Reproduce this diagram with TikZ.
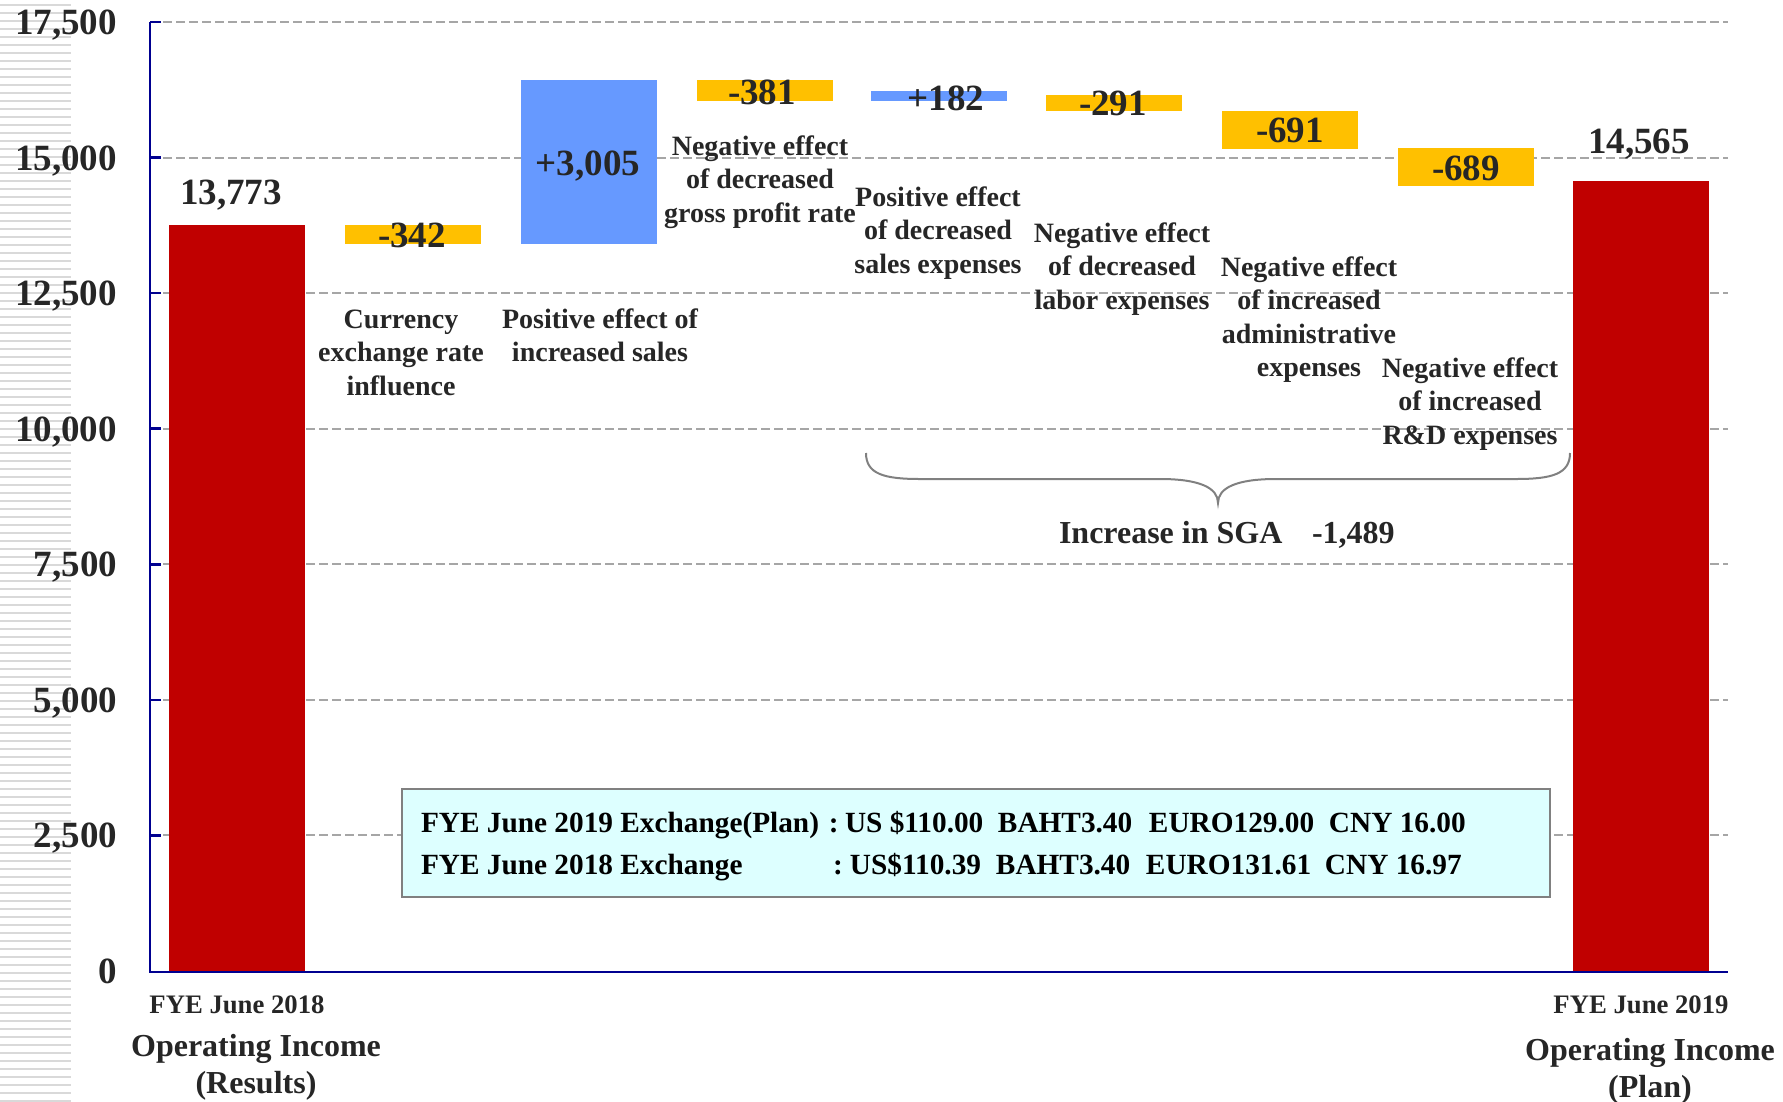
\documentclass[tikz,border=0pt]{standalone}
\usepackage{fontspec}
\setmainfont{Liberation Serif}
\definecolor{barred}{HTML}{C00000}
\definecolor{baryel}{HTML}{FFC000}
\definecolor{barblue}{HTML}{6699FF}
\definecolor{axisblue}{HTML}{000090}
\definecolor{gridgray}{HTML}{A6A6A6}
\definecolor{txt}{HTML}{262626}
\definecolor{boxfill}{HTML}{DDFFFF}
\definecolor{boxline}{HTML}{808080}
\definecolor{stripe}{HTML}{D9D9D9}
\newcommand{\catlbl}[1]{\begin{tabular}[t]{@{}c@{}}#1\end{tabular}}
\begin{document}
\begin{tikzpicture}[x=1pt,y=-1pt,
  every node/.style={inner sep=0pt, outer sep=0pt, text=txt},
  ticklbl/.style={anchor=base east, font=\fontsize{37}{44}\selectfont\bfseries},
  val/.style={anchor=base, font=\fontsize{37}{44}\selectfont\bfseries},
  cat/.style={anchor=base, font=\fontsize{28}{33.5}\selectfont\bfseries},
  boxtxt/.style={anchor=base west, text=black, font=\fontsize{29.3}{35}\selectfont\bfseries},
  fylbl/.style={anchor=base, font=\fontsize{26.7}{32}\selectfont\bfseries},
  oilbl/.style={anchor=base, font=\fontsize{32}{37.5}\selectfont\bfseries},
  gridln/.style={gridgray, line width=2pt, dash pattern=on 9pt off 4pt},
  axisln/.style={axisblue, line width=2.5pt}]
\useasboundingbox (0,0) rectangle (1783,1101);
% left stripes
\foreach \k in {0,...,137} \draw[stripe, line width=2pt] (0,{5+8*\k}) -- (71,{5+8*\k});
% gridlines and tick labels
\foreach \v/\lab in {0/0,1/{2,500},2/{5,000},3/{7,500},4/{10,000},5/{12,500},6/{15,000},7/{17,500}}{
  \pgfmathsetmacro{\yy}{971-\v*135.57}
  \ifnum\v>0 \draw[gridln] (150,\yy) -- (1728,\yy); \fi
  \node[ticklbl] (t\v) at (117,\yy+12.5) {\lab};
}
% bars
\fill[barred] (169,225) rectangle (305,972);
\fill[baryel] (345,225) rectangle (481,244);
\fill[barblue] (521,80) rectangle (657,244);
\fill[baryel] (697,80) rectangle (833,101);
\fill[barblue] (871,91) rectangle (1007,101);
\fill[baryel] (1046,95) rectangle (1182,111);
\fill[baryel] (1222,111) rectangle (1358,149);
\fill[baryel] (1398,148) rectangle (1534,186);
\fill[barred] (1573,181) rectangle (1709,972);
% axes
\draw[axisln] (150,22) -- (150,972) -- (1728,972);
\foreach \v in {1,...,7}{
  \pgfmathsetmacro{\yy}{971-\v*135.57}
  \draw[axisln] (150,\yy) -- (161,\yy);
}
% values
\node[val] (v0) at (231,204) {13,773};
\node[val] (v1) at (412,247) {-342};
\node[val] (v2) at (588,175) {+3,005};
\node[val] (v3) at (762,104) {-381};
\node[val] (v4) at (946,110) {+182};
\node[val] (v5) at (1113,115) {-291};
\node[val] (v6) at (1290,142) {-691};
\node[val] (v7) at (1466,180) {-689};
\node[val] (v8) at (1639,153) {14,565};
% category labels
\node[cat] (c1) at (401,328) {\catlbl{Currency\\exchange rate\\influence}};
\node[cat] (c2) at (600,328) {\catlbl{Positive effect of\\increased sales}};
\node[cat] (c3) at (760,155) {\catlbl{Negative effect\\of decreased\\gross profit rate}};
\node[cat] (c4) at (938,206) {\catlbl{Positive effect\\of decreased\\sales expenses}};
\node[cat] (c5) at (1122,242) {\catlbl{Negative effect\\of decreased\\labor expenses}};
\node[cat] (c6) at (1309,276) {\catlbl{Negative effect\\of increased\\administrative\\expenses}};
\node[cat] (c7) at (1470,377) {\catlbl{Negative effect\\of increased\\R\&D expenses}};
% brace
\coordinate (bl) at (866,453);
\coordinate (bt) at (1218,503);
\coordinate (br) at (1570,453);
\draw[boxline, line width=2pt] (bl) .. controls (866,474) and (884,479) .. (920,479) -- (1160,479)
  .. controls (1200,479) and (1218,488) .. (bt)
  .. controls (1218,488) and (1236,479) .. (1276,479) -- (1516,479)
  .. controls (1552,479) and (1570,474) .. (br);
\node[anchor=base west, font=\fontsize{32}{38}\selectfont\bfseries] (sga) at (1059,543) {\makebox[253pt][l]{Increase in SGA}-1,489};
% exchange box
\node[draw=boxline, fill=boxfill, line width=2pt, minimum width=1148pt, minimum height=108pt, anchor=north west] (xbox) at (402,789) {};
\node[boxtxt] (x1) at (421,832) {\makebox[408pt][l]{FYE June 2019 Exchange(Plan)}\makebox[16pt][l]{:}\makebox[153pt][l]{US \$110.00}\makebox[151pt][l]{BAHT3.40}\makebox[180pt][l]{EURO129.00}CNY 16.00};
\node[boxtxt] (x2) at (421,874) {\makebox[412pt][l]{FYE June 2018 Exchange}\makebox[17pt][l]{:}\makebox[146pt][l]{US\$110.39}\makebox[150pt][l]{BAHT3.40}\makebox[179pt][l]{EURO131.61}CNY 16.97};
% bottom labels
\node[fylbl] (fy18) at (237,1013) {FYE June 2018};
\node[oilbl] (oi18) at (256,1056) {\catlbl{Operating Income\\(Results)}};
\node[fylbl] (fy19) at (1641,1013) {FYE June 2019};
\node[oilbl] (oi19) at (1650,1060) {\catlbl{Operating Income\\(Plan)}};
\end{tikzpicture}
\end{document}
